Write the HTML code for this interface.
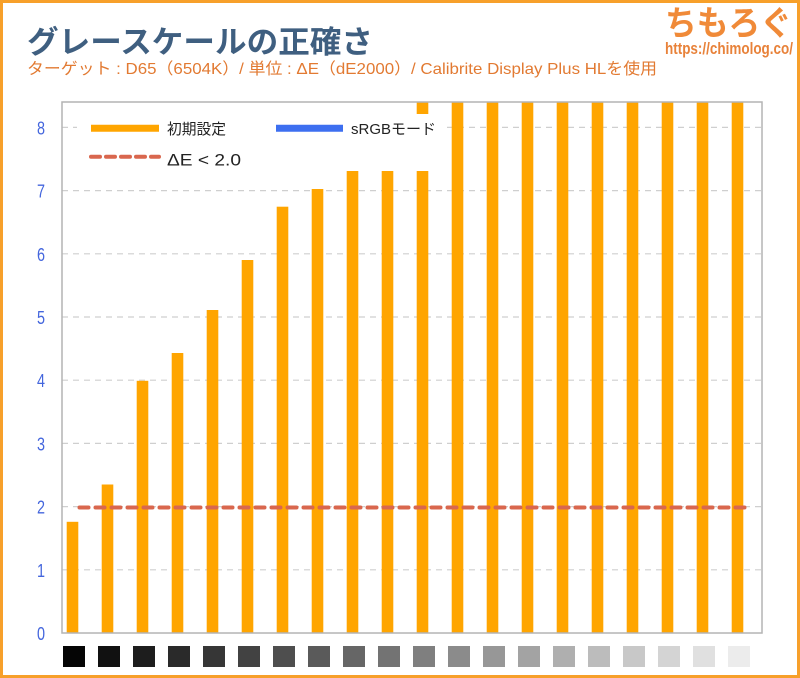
<!DOCTYPE html>
<html><head><meta charset="utf-8"><style>
html,body{margin:0;padding:0;background:#fff;}
svg{display:block;}
</style></head><body>
<svg width="800" height="678" viewBox="0 0 800 678" xmlns="http://www.w3.org/2000/svg">
<rect x="0" y="0" width="800" height="678" fill="#ffffff"/>
<rect x="1.5" y="1.5" width="797" height="675" fill="none" stroke="#f7a02a" stroke-width="3"/>
<!-- title -->
<text x="27" y="53" font-family="'Liberation Sans','Noto Sans CJK JP',sans-serif" font-size="31" font-weight="bold" fill="#3f5f80" textLength="346" lengthAdjust="spacingAndGlyphs">グレースケールの正確さ</text>
<text x="27" y="74" font-family="'Liberation Sans','Noto Sans CJK JP',sans-serif" font-size="16" fill="#e27a32" textLength="630" lengthAdjust="spacingAndGlyphs">ターゲット : D65（6504K）/ 単位 : ΔE（dE2000）/ Calibrite Display Plus HLを使用</text>
<!-- logo -->
<text x="665" y="35" font-family="'Noto Sans CJK JP',sans-serif" font-size="34" font-weight="bold" fill="#f08a38" textLength="127" lengthAdjust="spacingAndGlyphs">ちもろぐ</text>
<text x="665" y="54" font-family="'Liberation Sans',sans-serif" font-size="17" font-weight="bold" fill="#e8823a" textLength="128" lengthAdjust="spacingAndGlyphs">https://chimolog.co/</text>
<!-- gridlines -->
<g stroke="#cfcfcf" stroke-width="1.2" stroke-dasharray="6,5">
<line x1="62" y1="569.8" x2="762" y2="569.8"/>
<line x1="62" y1="506.6" x2="762" y2="506.6"/>
<line x1="62" y1="443.4" x2="762" y2="443.4"/>
<line x1="62" y1="380.2" x2="762" y2="380.2"/>
<line x1="62" y1="317" x2="762" y2="317"/>
<line x1="62" y1="253.8" x2="762" y2="253.8"/>
<line x1="62" y1="190.6" x2="762" y2="190.6"/>
<line x1="62" y1="127.4" x2="762" y2="127.4"/>
</g>
<!-- bars -->
<g fill="#ffa500">
<rect x="66.7" y="521.8" width="11.6" height="111.2"/>
<rect x="101.7" y="484.5" width="11.6" height="148.5"/>
<rect x="136.7" y="380.8" width="11.6" height="252.2"/>
<rect x="171.7" y="353" width="11.6" height="280"/>
<rect x="206.7" y="310" width="11.6" height="323"/>
<rect x="241.7" y="260" width="11.6" height="373"/>
<rect x="276.7" y="206.7" width="11.6" height="426.3"/>
<rect x="311.7" y="189" width="11.6" height="444"/>
<rect x="346.7" y="171" width="11.6" height="462"/>
<rect x="381.7" y="171" width="11.6" height="462"/>
<rect x="416.7" y="102" width="11.6" height="531"/>
<rect x="451.7" y="102" width="11.6" height="531"/>
<rect x="486.7" y="102" width="11.6" height="531"/>
<rect x="521.7" y="102" width="11.6" height="531"/>
<rect x="556.7" y="102" width="11.6" height="531"/>
<rect x="591.7" y="102" width="11.6" height="531"/>
<rect x="626.7" y="102" width="11.6" height="531"/>
<rect x="661.7" y="102" width="11.6" height="531"/>
<rect x="696.7" y="102" width="11.6" height="531"/>
<rect x="731.7" y="102" width="11.6" height="531"/>
</g>
<!-- target line -->
<line x1="79.5" y1="507.5" x2="744.5" y2="507.5" stroke="#d9674e" stroke-width="4" stroke-dasharray="9,7" stroke-linecap="round"/>
<!-- legend background -->
<rect x="77" y="114" width="366" height="57" fill="#ffffff"/>
<line x1="91" y1="128.3" x2="159" y2="128.3" stroke="#ffa500" stroke-width="7"/>
<text x="167" y="134" font-family="'Liberation Sans','Noto Sans CJK JP',sans-serif" font-size="15" fill="#222" textLength="59" lengthAdjust="spacingAndGlyphs">初期設定</text>
<line x1="276" y1="128.3" x2="343" y2="128.3" stroke="#3d6ff0" stroke-width="7"/>
<text x="351" y="134" font-family="'Liberation Sans','Noto Sans CJK JP',sans-serif" font-size="15" fill="#222" textLength="85" lengthAdjust="spacingAndGlyphs">sRGBモード</text>
<line x1="91" y1="156.7" x2="159" y2="156.7" stroke="#d9674e" stroke-width="4" stroke-dasharray="9,6" stroke-linecap="round"/>
<text x="167" y="165.5" font-family="'Liberation Sans','Noto Sans CJK JP',sans-serif" font-size="17" fill="#222" textLength="74" lengthAdjust="spacingAndGlyphs">ΔE &lt; 2.0</text>
<!-- plot border -->
<rect x="62" y="102" width="700" height="531" fill="none" stroke="#b4b4b4" stroke-width="1.5"/>
<!-- y labels -->
<g font-family="'Liberation Sans',sans-serif" font-size="18" fill="#4466dd">
<text x="37" y="640" textLength="8" lengthAdjust="spacingAndGlyphs">0</text>
<text x="37" y="576.8" textLength="8" lengthAdjust="spacingAndGlyphs">1</text>
<text x="37" y="513.6" textLength="8" lengthAdjust="spacingAndGlyphs">2</text>
<text x="37" y="450.4" textLength="8" lengthAdjust="spacingAndGlyphs">3</text>
<text x="37" y="387.2" textLength="8" lengthAdjust="spacingAndGlyphs">4</text>
<text x="37" y="324" textLength="8" lengthAdjust="spacingAndGlyphs">5</text>
<text x="37" y="260.8" textLength="8" lengthAdjust="spacingAndGlyphs">6</text>
<text x="37" y="197.6" textLength="8" lengthAdjust="spacingAndGlyphs">7</text>
<text x="37" y="134.4" textLength="8" lengthAdjust="spacingAndGlyphs">8</text>
</g>
<!-- gray swatches -->
<rect x="63" y="646" width="22" height="21" fill="#050505"/>
<rect x="98" y="646" width="22" height="21" fill="#111111"/>
<rect x="133" y="646" width="22" height="21" fill="#1d1d1d"/>
<rect x="168" y="646" width="22" height="21" fill="#2a2a2a"/>
<rect x="203" y="646" width="22" height="21" fill="#363636"/>
<rect x="238" y="646" width="22" height="21" fill="#424242"/>
<rect x="273" y="646" width="22" height="21" fill="#4e4e4e"/>
<rect x="308" y="646" width="22" height="21" fill="#5a5a5a"/>
<rect x="343" y="646" width="22" height="21" fill="#666666"/>
<rect x="378" y="646" width="22" height="21" fill="#737373"/>
<rect x="413" y="646" width="22" height="21" fill="#7f7f7f"/>
<rect x="448" y="646" width="22" height="21" fill="#8b8b8b"/>
<rect x="483" y="646" width="22" height="21" fill="#979797"/>
<rect x="518" y="646" width="22" height="21" fill="#a3a3a3"/>
<rect x="553" y="646" width="22" height="21" fill="#afafaf"/>
<rect x="588" y="646" width="22" height="21" fill="#bcbcbc"/>
<rect x="623" y="646" width="22" height="21" fill="#c8c8c8"/>
<rect x="658" y="646" width="22" height="21" fill="#d4d4d4"/>
<rect x="693" y="646" width="22" height="21" fill="#e0e0e0"/>
<rect x="728" y="646" width="22" height="21" fill="#ececec"/>
</svg>
</body></html>
